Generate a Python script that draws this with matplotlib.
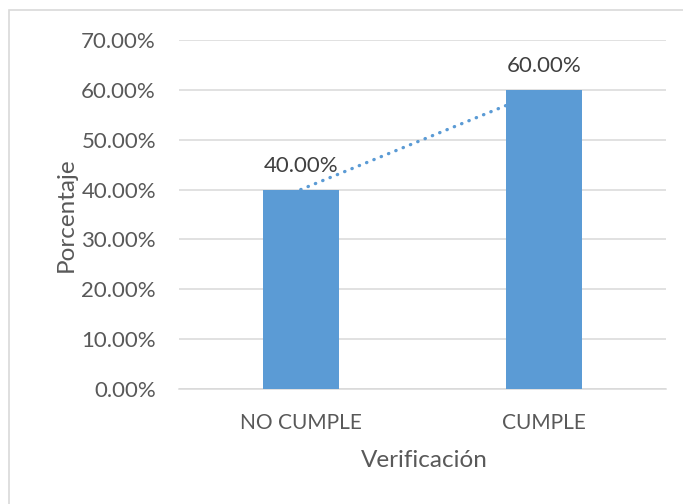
import matplotlib
matplotlib.use("Agg")
import matplotlib.pyplot as plt
import numpy as np
from matplotlib.patches import Rectangle
from matplotlib.ticker import FuncFormatter

categories = ["NO CUMPLE", "CUMPLE"]
values = [0.40, 0.60]
y_ticks = [0.0, 0.1, 0.2, 0.3, 0.4, 0.5, 0.6, 0.7]

plt.rcParams['font.family'] = ['Lato', 'DejaVu Sans']
txt = '#595959'
lbl = '#404040'
blue = '#5B9BD5'
grid = '#D9D9D9'

W, H = 683, 504
fig = plt.figure(figsize=(W/100, H/100), dpi=100)
L, R, T, B = 179, 666, 40, 389
ax = fig.add_axes([L/W, 1-B/H, (R-L)/W, (B-T)/H])

x = np.arange(len(categories))
ax.bar(x, values, width=0.313, color=blue, zorder=3)

# linear trendline
coef = np.polyfit(x, values, 1)
xt = np.array([x[0], x[-1]])
tl, = ax.plot(xt, np.polyval(coef, xt), linestyle=(0, (0.1, 2.27)), color=blue,
              linewidth=2.4, dash_capstyle='round', zorder=2)
clip = Rectangle((-0.5, 0), 2, max(values), transform=ax.transData)
tl.set_clip_path(clip)

for xi, v in zip(x, values):
    ax.annotate(f"{v*100:.2f}%", (xi, v), xytext=(0, 12.7), textcoords='offset points',
                ha='center', va='baseline', fontsize=16, color=lbl, zorder=4)

ax.set_xlim(-0.5, len(categories)-0.5)
ax.set_ylim(0, 0.7)
ax.set_yticks(y_ticks)
ax.yaxis.set_major_formatter(FuncFormatter(lambda v, p: f"{v*100:.2f}%"))
ax.set_xticks(x)
ax.set_xticklabels(categories)
ax.tick_params(axis='both', length=0, labelcolor=txt)
ax.tick_params(axis='y', pad=16.6, labelsize=16)
ax.tick_params(axis='x', pad=17, labelsize=15)
ax.grid(axis='y', color=grid, linewidth=1.1, zorder=0)
ax.set_axisbelow(True)
for s in ['top', 'right', 'left']:
    ax.spines[s].set_visible(False)
ax.spines['bottom'].set_color(grid)
ax.spines['bottom'].set_linewidth(1.1)

ax.set_ylabel("Porcentaje", fontsize=17.5, color=txt)
ax.yaxis.set_label_coords((77-L)/(R-L), 0.5)
ax.set_xlabel("Verificación", fontsize=17.5, color=txt, va='baseline')
ax.xaxis.set_label_coords((424-L)/(R-L), (B-467)/(B-T))

fig.patches.append(Rectangle((9/W, -0.05), 1.2, (H-10)/H + 0.05,
                             transform=fig.transFigure, fill=False,
                             edgecolor=grid, linewidth=1.2))

fig.savefig("out.png", dpi=100)
